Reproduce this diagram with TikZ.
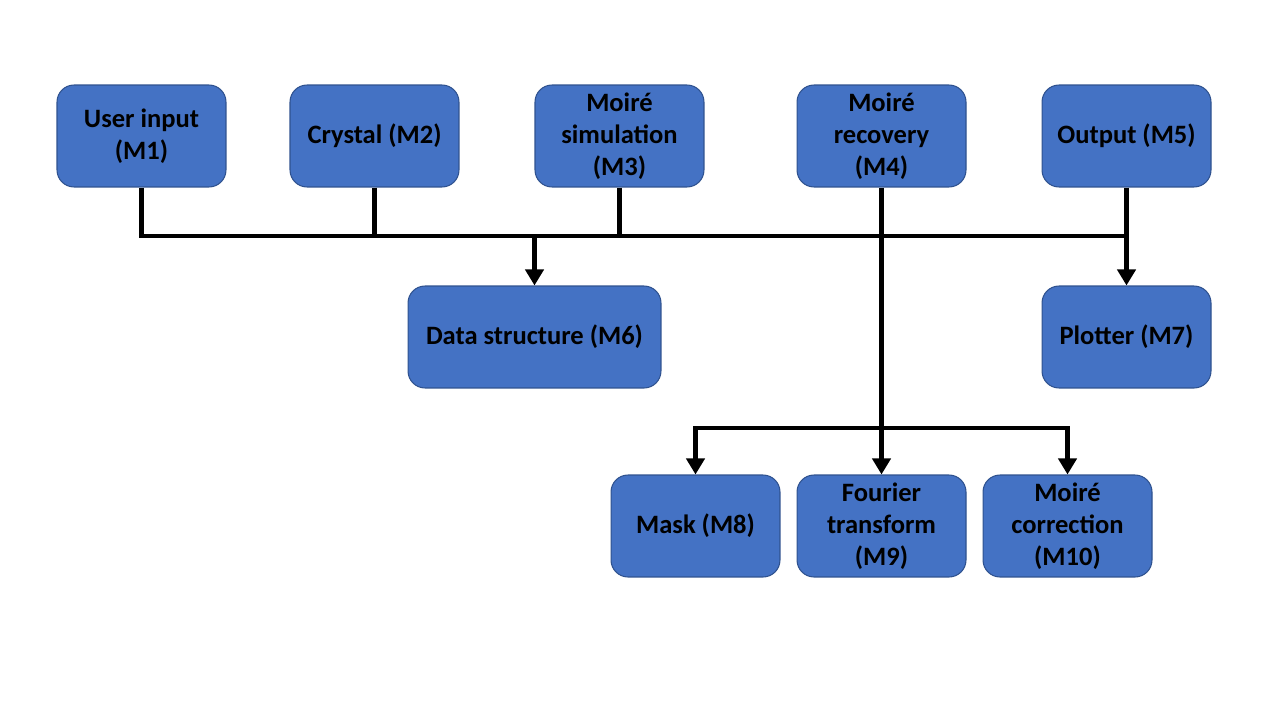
\documentclass[tikz,border=0pt]{standalone}
\usepackage{fontspec}
\setmainfont{Carlito}
\usetikzlibrary{arrows.meta}
\definecolor{boxfill}{HTML}{4472C4}
\definecolor{boxline}{HTML}{2F528F}
\begin{document}
\begin{tikzpicture}[x=0.02cm,y=-0.02cm,
  modbox/.style={draw=boxline, fill=boxfill, line width=0.6pt, rounded corners=0.34cm,
    minimum width=3.38cm, minimum height=2.04cm, align=center, inner sep=2pt,
    font=\fontsize{15.1pt}{18.1pt}\selectfont\bfseries, text=black},
  wide/.style={minimum width=5.06cm},
  conn/.style={line width=2.8pt, black, line join=miter},
  arr/.style={conn, -{Triangle[width=0.36cm,length=0.32cm]}}]
\useasboundingbox (0,0) rectangle (1280,720);
\node[modbox] (m1) at (141.5,136) {User input\\(M1)};
\node[modbox] (m2) at (374.5,136) {Crystal (M2)};
\node[modbox] (m3) at (619.5,136) {Moiré\\simulation\\(M3)};
\node[modbox] (m4) at (881.5,136) {Moiré\\recovery\\(M4)};
\node[modbox] (m5) at (1126.5,136) {Output (M5)};
\node[modbox,wide] (m6) at (534.5,337) {Data structure (M6)};
\node[modbox] (m7) at (1126.5,337) {Plotter (M7)};
\node[modbox] (m8) at (695.5,526) {Mask (M8)};
\node[modbox] (m9) at (881.5,526) {Fourier\\transform\\(M9)};
\node[modbox] (m10) at (1067.5,526) {Moiré\\correction\\(M10)};
\coordinate (busR) at (m5.south |- 0,236);
\coordinate (fan) at (m4.south |- 0,428);
\draw[conn] (m1.south) |- (busR);
\draw[conn] (m2.south) -- (m2.south |- busR);
\draw[conn] (m3.south) -- (m3.south |- busR);
\draw[arr] (m6.north |- busR) -- (m6.north);
\draw[arr] (m5.south) -- (m7.north);
\draw[arr] (m4.south) -- (m9.north);
\draw[arr] (fan) -| (m8.north);
\draw[arr] (fan) -| (m10.north);
\end{tikzpicture}
\end{document}
